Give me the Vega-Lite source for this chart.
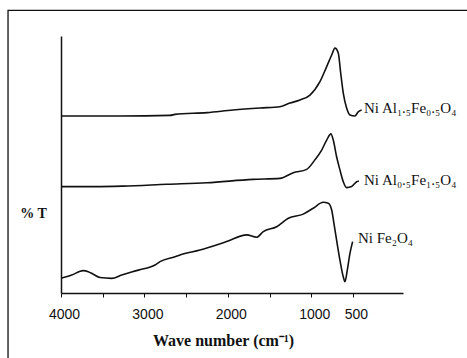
{
  "$schema": "https://vega.github.io/schema/vega-lite/v6.json",
  "width": 342,
  "height": 257,
  "autosize": {"type": "none"},
  "padding": {"left": 61, "top": 36, "right": 64, "bottom": 65},
  "background": "white",
  "config": {"view": {"stroke": null}, "axis": {"grid": false}},
  "datasets": {
    "spectra": [
      {"series": "A", "wn": 4000, "T": 68.9},
      {"series": "A", "wn": 3293, "T": 68.9},
      {"series": "A", "wn": 2693, "T": 69.1},
      {"series": "A", "wn": 2634, "T": 69.5},
      {"series": "A", "wn": 2250, "T": 70.2},
      {"series": "A", "wn": 1938, "T": 71.2},
      {"series": "A", "wn": 1615, "T": 72.0},
      {"series": "A", "wn": 1375, "T": 72.5},
      {"series": "A", "wn": 1255, "T": 73.9},
      {"series": "A", "wn": 1135, "T": 75.1},
      {"series": "A", "wn": 1015, "T": 77.0},
      {"series": "A", "wn": 896, "T": 82.2},
      {"series": "A", "wn": 815, "T": 88.1},
      {"series": "A", "wn": 755, "T": 92.6},
      {"series": "A", "wn": 716, "T": 95.3},
      {"series": "A", "wn": 676, "T": 93.4},
      {"series": "A", "wn": 647, "T": 85.6},
      {"series": "A", "wn": 616, "T": 77.8},
      {"series": "A", "wn": 576, "T": 72.0},
      {"series": "A", "wn": 536, "T": 69.3},
      {"series": "A", "wn": 476, "T": 68.9},
      {"series": "A", "wn": 437, "T": 70.5},
      {"series": "A", "wn": 396, "T": 71.2},
      {"series": "B", "wn": 4000, "T": 41.4},
      {"series": "B", "wn": 3592, "T": 41.4},
      {"series": "B", "wn": 3257, "T": 41.6},
      {"series": "B", "wn": 2729, "T": 42.3},
      {"series": "B", "wn": 2250, "T": 42.9},
      {"series": "B", "wn": 1699, "T": 44.2},
      {"series": "B", "wn": 1375, "T": 44.6},
      {"series": "B", "wn": 1216, "T": 46.8},
      {"series": "B", "wn": 1055, "T": 48.1},
      {"series": "B", "wn": 956, "T": 51.8},
      {"series": "B", "wn": 875, "T": 55.6},
      {"series": "B", "wn": 815, "T": 59.5},
      {"series": "B", "wn": 764, "T": 61.9},
      {"series": "B", "wn": 736, "T": 59.5},
      {"series": "B", "wn": 696, "T": 53.0},
      {"series": "B", "wn": 656, "T": 47.9},
      {"series": "B", "wn": 616, "T": 43.3},
      {"series": "B", "wn": 576, "T": 41.0},
      {"series": "B", "wn": 516, "T": 41.4},
      {"series": "B", "wn": 456, "T": 43.3},
      {"series": "B", "wn": 428, "T": 43.6},
      {"series": "C", "wn": 4000, "T": 5.7},
      {"series": "C", "wn": 3872, "T": 7.0},
      {"series": "C", "wn": 3733, "T": 8.7},
      {"series": "C", "wn": 3673, "T": 8.3},
      {"series": "C", "wn": 3613, "T": 7.3},
      {"series": "C", "wn": 3533, "T": 6.0},
      {"series": "C", "wn": 3392, "T": 5.7},
      {"series": "C", "wn": 3272, "T": 7.0},
      {"series": "C", "wn": 3073, "T": 8.9},
      {"series": "C", "wn": 2873, "T": 10.9},
      {"series": "C", "wn": 2813, "T": 12.2},
      {"series": "C", "wn": 2634, "T": 14.1},
      {"series": "C", "wn": 2574, "T": 14.8},
      {"series": "C", "wn": 2334, "T": 16.7},
      {"series": "C", "wn": 2014, "T": 20.0},
      {"series": "C", "wn": 1774, "T": 22.6},
      {"series": "C", "wn": 1654, "T": 21.7},
      {"series": "C", "wn": 1575, "T": 23.9},
      {"series": "C", "wn": 1415, "T": 25.8},
      {"series": "C", "wn": 1275, "T": 29.1},
      {"series": "C", "wn": 1096, "T": 30.7},
      {"series": "C", "wn": 976, "T": 33.0},
      {"series": "C", "wn": 856, "T": 35.3},
      {"series": "C", "wn": 796, "T": 34.9},
      {"series": "C", "wn": 755, "T": 32.3},
      {"series": "C", "wn": 728, "T": 27.1},
      {"series": "C", "wn": 696, "T": 20.6},
      {"series": "C", "wn": 656, "T": 12.8},
      {"series": "C", "wn": 616, "T": 6.3},
      {"series": "C", "wn": 596, "T": 4.4},
      {"series": "C", "wn": 568, "T": 8.9},
      {"series": "C", "wn": 536, "T": 15.4},
      {"series": "C", "wn": 504, "T": 20.0}
    ],
    "labels": [
      {"label": "Ni Al₁.₅Fe₀.₅O₄", "wn": 368, "T": 72.0},
      {"label": "Ni Al₀.₅Fe₁.₅O₄", "wn": 368, "T": 44.0},
      {"label": "Ni Fe₂O₄", "wn": 440, "T": 21.4}
    ]
  },
  "layer": [
    {
      "data": {"name": "spectra"},
      "mark": {"type": "line", "color": "#111111", "strokeWidth": 1.6, "interpolate": "monotone"},
      "encoding": {
        "x": {
          "field": "wn",
          "type": "quantitative",
          "title": "Wave number (cm⁻¹)",
          "scale": {"domain": [-100, 4000], "reverse": true, "nice": false, "zero": false},
          "axis": {
            "values": [4000, 3500, 3000, 2500, 2000, 1500, 1000, 500],
            "format": "d",
            "labelExpr": "datum.value % 1000 == 0 || datum.value == 500 ? datum.label : ''",
            "labelFlush": false,
            "tickSize": 4,
            "tickColor": "#111111",
            "domainColor": "#111111",
            "domainWidth": 1.5,
            "labelFont": "Liberation Sans",
            "labelFontSize": 14,
            "labelColor": "#111111",
            "labelPadding": 10,
            "labelOffset": 3,
            "titleFont": "Liberation Serif",
            "titleFontWeight": "bold",
            "titleFontSize": 16,
            "titleColor": "#111111",
            "titleX": 162,
            "titleY": 52,
            "titleAlign": "center",
            "titleBaseline": "alphabetic"
          }
        },
        "y": {
          "field": "T",
          "type": "quantitative",
          "title": "% T",
          "scale": {"domain": [0, 100], "nice": false, "zero": false},
          "axis": {
            "ticks": false,
            "labels": false,
            "domainColor": "#111111",
            "domainWidth": 1.5,
            "titleAngle": 0,
            "titleX": -28,
            "titleY": 177,
            "titleAlign": "center",
            "titleBaseline": "middle",
            "titleFont": "Liberation Serif",
            "titleFontWeight": "bold",
            "titleFontSize": 14,
            "titleColor": "#111111"
          }
        },
        "detail": {"field": "series", "type": "nominal"}
      }
    },
    {
      "data": {"name": "labels"},
      "mark": {"type": "text", "align": "left", "baseline": "middle", "font": "Liberation Serif", "fontSize": 15, "color": "#111111"},
      "encoding": {
        "x": {"field": "wn", "type": "quantitative", "title": "Wave number (cm⁻¹)"},
        "y": {"field": "T", "type": "quantitative", "title": "% T"},
        "text": {"field": "label"}
      }
    },
    {
      "data": {"values": [{}]},
      "mark": {"type": "rect", "filled": false, "stroke": "#111111", "strokeWidth": 1.3},
      "encoding": {
        "x": {"datum": 4635, "type": "quantitative", "title": "Wave number (cm⁻¹)"},
        "x2": {"datum": -1022},
        "y": {"datum": 110, "type": "quantitative", "title": "% T"},
        "y2": {"datum": -30}
      }
    }
  ]
}
